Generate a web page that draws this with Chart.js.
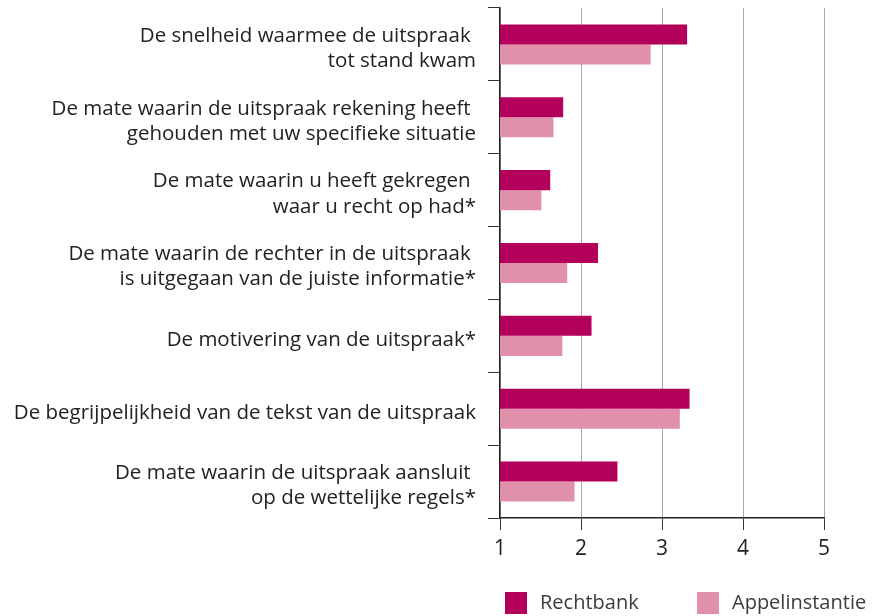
<!DOCTYPE html>
<html>
<head>
<meta charset="utf-8">
<script src="https://cdn.jsdelivr.net/npm/chart.js@4"></script>
<style>
  body { margin: 0; background: #fff; }
  #wrap { width: 872px; height: 616px; position: relative; }
</style>
</head>
<body>
<div id="wrap"><canvas id="chart"></canvas></div>
<script>
const categories = [
  ["De snelheid waarmee de uitspraak ", "tot stand kwam"],
  ["De mate waarin de uitspraak rekening heeft ", "gehouden met uw specifieke situatie"],
  ["De mate waarin u heeft gekregen ", "waar u recht op had*"],
  ["De mate waarin de rechter in de uitspraak ", "is uitgegaan van de juiste informatie*"],
  "De motivering van de uitspraak*",
  "De begrijpelijkheid van de tekst van de uitspraak",
  ["De mate waarin de uitspraak aansluit ", "op de wettelijke regels*"],
];
const rechtbank = [3.31, 1.78, 1.62, 2.21, 2.13, 3.34, 2.45];
const appelinstantie = [2.86, 1.66, 1.51, 1.83, 1.77, 3.22, 1.92];
const xTicks = [1, 2, 3, 4, 5];

const font = '"Open Sans", sans-serif';

// legend drawn below the plot, like the original
const bottomLegend = {
  id: "bottomLegend",
  afterDraw(chart) {
    const ctx = chart.ctx;
    const xs = [505, 697];
    ctx.save();
    ctx.font = "20px " + font;
    ctx.textBaseline = "middle";
    chart.data.datasets.forEach((ds, i) => {
      ctx.fillStyle = ds.backgroundColor;
      ctx.fillRect(xs[i], 592, 22, 22);
      ctx.fillStyle = "#3c3c3c";
      ctx.fillText(ds.label, xs[i] + 35, 603);
    });
    ctx.restore();
  },
};

new Chart(document.getElementById("chart").getContext("2d"), {
  type: "bar",
  data: {
    labels: categories,
    datasets: [
      {
        label: "Rechtbank",
        data: rechtbank,
        backgroundColor: "#b3005b",
        categoryPercentage: 0.55,
        barPercentage: 1,
      },
      {
        label: "Appelinstantie",
        data: appelinstantie,
        backgroundColor: "#e190ab",
        categoryPercentage: 0.55,
        barPercentage: 1,
      },
    ],
  },
  options: {
    indexAxis: "y",
    responsive: true,
    maintainAspectRatio: false,
    animation: false,
    layout: { padding: { top: 8, right: 48, bottom: 40, left: 0 } },
    plugins: {
      legend: { display: false },
      tooltip: { enabled: false },
    },
    scales: {
      x: {
        min: xTicks[0],
        max: xTicks[xTicks.length - 1],
        afterBuildTicks: (s) => {
          s.ticks = xTicks.map((v) => ({ value: v }));
        },
        afterFit: (s) => {
          s.height = 58;
        },
        grid: {
          color: "#a8a8a8",
          tickColor: "#333",
          tickLength: 12,
          lineWidth: 1,
        },
        border: { color: "#222", width: 1.5 },
        ticks: {
          color: "#222",
          padding: 6,
          font: { family: font, size: 21 },
        },
      },
      y: {
        afterFit: (s) => {
          s.width = 500;
          s.paddingTop = 0;
          s.paddingBottom = 0;
        },
        grid: {
          offset: true,
          drawOnChartArea: false,
          color: "#333",
          tickLength: 12,
        },
        border: { color: "#222", width: 1.5 },
        ticks: {
          color: "#222",
          padding: 12,
          labelOffset: 4,
          font: { family: font, size: 20.5, lineHeight: 1.23 },
        },
      },
    },
  },
  plugins: [bottomLegend],
});
</script>
</body>
</html>
